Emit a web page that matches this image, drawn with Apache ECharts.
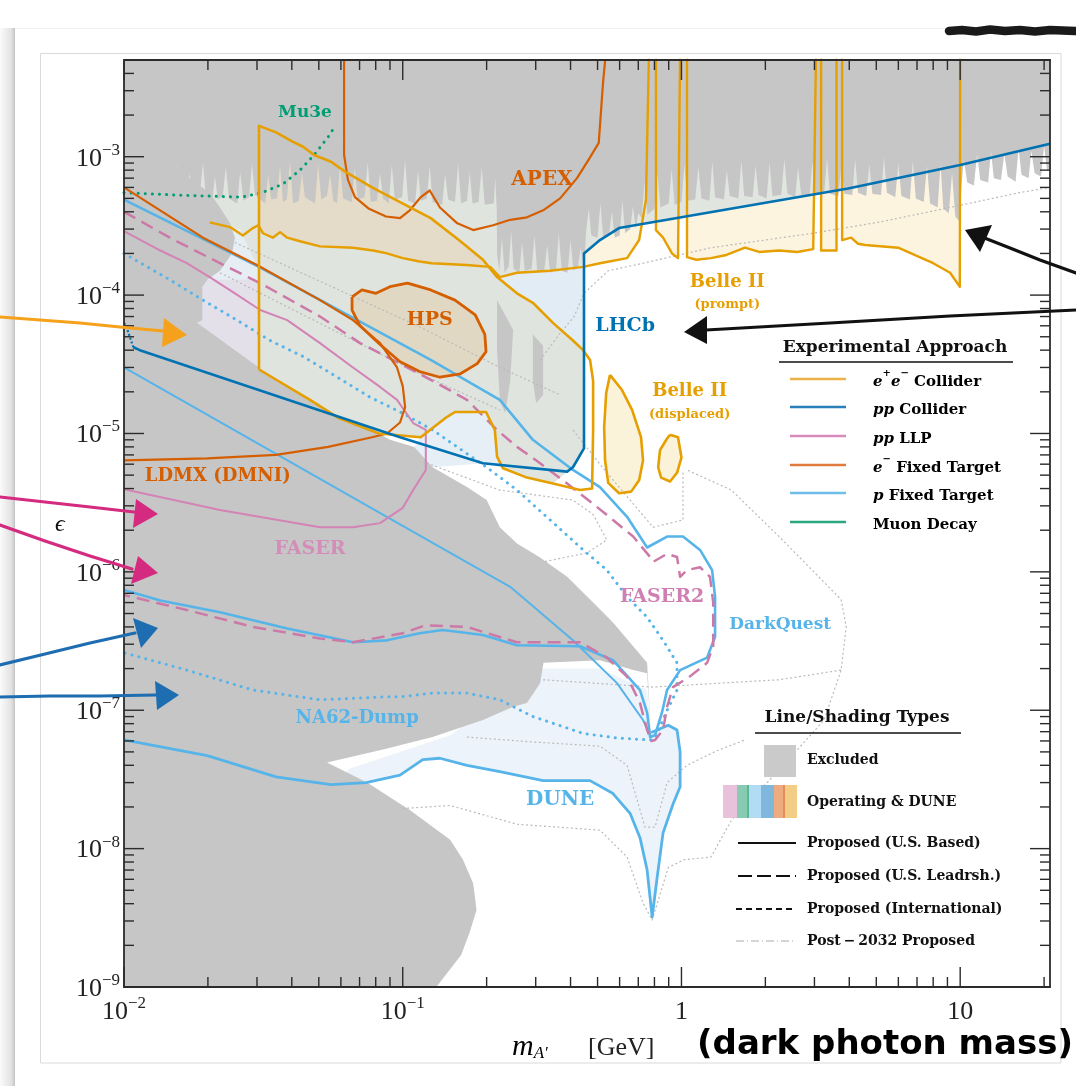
<!DOCTYPE html>
<html><head><meta charset="utf-8">
<script src="https://cdn.jsdelivr.net/npm/echarts@6/dist/echarts.min.js"></script>
<style>html,body{margin:0;padding:0;background:#fff}#c{width:1076px;height:1086px}</style>
</head><body><div id="c"></div><script>
// ---------------- axis ranges & ticks ----------------
const X_MIN = 0.01, X_MAX = 21, Y_MIN = 1e-9, Y_MAX = 5e-3;
const xMajor = [0.01, 0.1, 1, 10];
const xMinor = [0.02,0.03,0.04,0.05,0.06,0.07,0.08,0.09,0.2,0.3,0.4,0.5,0.6,0.7,0.8,0.9,2,3,4,5,6,7,8,9,20];
const yMajor = [1e-9,1e-8,1e-7,1e-6,1e-5,1e-4,1e-3];
const yMinor = [2e-9,3e-9,4e-9,5e-9,6e-9,7e-9,8e-9,9e-9,2e-8,3e-8,4e-8,5e-8,6e-8,7e-8,8e-8,9e-8,
  2e-7,3e-7,4e-7,5e-7,6e-7,7e-7,8e-7,9e-7,2e-6,3e-6,4e-6,5e-6,6e-6,7e-6,8e-6,9e-6,
  2e-5,3e-5,4e-5,5e-5,6e-5,7e-5,8e-5,9e-5,2e-4,3e-4,4e-4,5e-4,6e-4,7e-4,8e-4,9e-4,2e-3,3e-3,4e-3];

// ---------------- excluded (grey) regions: [mass GeV, epsilon] ----------------
const grayTopEdge = [[0.010,9.5e-4],[0.015,9.1e-4],
 [0.0152,5.2e-4],[0.0156,8.8e-4],[0.016,5.0e-4],[0.0168,4.8e-4],[0.0172,7.6e-4],[0.0176,5.1e-4],
 [0.0187,5.3e-4],[0.0192,9.0e-4],[0.0197,5.0e-4],[0.0207,4.7e-4],[0.0212,7.2e-4],[0.0217,4.9e-4],
 [0.0226,5.2e-4],[0.0232,8.4e-4],[0.0238,5.0e-4],[0.0255,4.6e-4],[0.0261,7.8e-4],[0.0268,4.8e-4],
 [0.0281,5.1e-4],[0.0288,8.9e-4],[0.0295,5.3e-4],[0.0321,4.6e-4],[0.0329,7.4e-4],[0.0337,4.9e-4],
 [0.0354,5.0e-4],[0.0363,8.6e-4],[0.0372,4.7e-4],[0.0384,4.9e-4],[0.0394,9.3e-4],[0.0404,4.6e-4],
 [0.0424,4.8e-4],[0.0435,7.7e-4],[0.0446,5.1e-4],[0.0485,4.6e-4],[0.0497,9.0e-4],[0.051,4.9e-4],
 [0.0535,5.2e-4],[0.0549,7.5e-4],[0.0563,4.8e-4],[0.0581,4.6e-4],[0.0596,8.8e-4],[0.0611,5.0e-4],
 [0.0656,4.7e-4],[0.0673,8.2e-4],[0.069,4.9e-4],[0.073,5.1e-4],[0.0749,9.1e-4],[0.0768,4.7e-4],
 [0.0808,4.8e-4],[0.0829,7.6e-4],[0.085,5.0e-4],[0.0891,4.6e-4],[0.0914,8.7e-4],[0.0937,4.9e-4],
 [0.0995,5.1e-4],[0.102,9.4e-4],[0.1045,4.8e-4],[0.1107,4.6e-4],[0.1135,7.9e-4],[0.1163,4.8e-4],
 [0.122,5.0e-4],[0.125,8.6e-4],[0.128,4.7e-4],[0.1385,4.5e-4],[0.142,7.5e-4],[0.1455,4.9e-4],
 [0.154,4.7e-4],[0.158,8.9e-4],[0.162,4.6e-4],[0.17,4.8e-4],[0.174,7.7e-4],[0.178,4.6e-4],
 [0.187,4.7e-4],[0.192,8.3e-4],[0.197,4.5e-4],[0.212,4.6e-4],[0.215,7.0e-4],[0.2175,4.0e-4],
 [0.218,2.0e-4],[0.222,1.5e-4],[0.227,2.6e-4],[0.232,1.45e-4],[0.24,1.6e-4],[0.245,2.9e-4],[0.25,1.55e-4],
 [0.262,1.45e-4],[0.268,2.4e-4],[0.274,1.5e-4],[0.29,1.55e-4],[0.297,2.7e-4],[0.304,1.45e-4],
 [0.322,1.5e-4],[0.33,2.3e-4],[0.338,1.45e-4],[0.355,1.55e-4],[0.363,2.8e-4],[0.372,1.5e-4],
 [0.39,1.45e-4],[0.4,2.5e-4],[0.41,1.5e-4],[0.425,1.6e-4],[0.435,2.2e-4],[0.447,1.55e-4],
 [0.455,2.9e-4],[0.465,4.2e-4],[0.475,2.7e-4],[0.5,2.6e-4],[0.512,4.6e-4],[0.524,2.6e-4],
 [0.55,2.8e-4],[0.563,4.0e-4],[0.576,2.6e-4],[0.6,2.7e-4],[0.614,4.8e-4],[0.628,2.8e-4],
 [0.655,3.0e-4],[0.67,4.4e-4],[0.685,3.0e-4],
 [0.7,3.9e-4],[0.72,3.6e-4],[0.737,6.5e-4],[0.755,3.8e-4],[0.8,4.2e-4],[0.82,7.6e-4],[0.84,4.3e-4],
 [0.9,4.6e-4],[0.922,8.2e-4],[0.945,4.5e-4],[1.0,4.7e-4],[1.025,8.8e-4],[1.05,4.8e-4],
 [1.12,4.9e-4],[1.15,8.4e-4],[1.18,5.0e-4],[1.26,4.8e-4],[1.29,9.2e-4],[1.32,5.1e-4],
 [1.42,4.9e-4],[1.455,8.0e-4],[1.49,5.2e-4],[1.6,5.0e-4],[1.64,9.4e-4],[1.68,5.2e-4],
 [1.8,5.1e-4],[1.845,8.6e-4],[1.89,5.3e-4],[2.02,5.0e-4],[2.07,9.0e-4],[2.12,5.2e-4],
 [2.28,5.3e-4],[2.34,9.6e-4],[2.4,5.4e-4],[2.56,5.1e-4],[2.62,8.4e-4],[2.69,5.3e-4],
 [2.88,5.2e-4],[2.95,9.2e-4],[3.02,5.3e-4],[3.25,5.4e-4],[3.33,9.8e-4],[3.41,5.4e-4],
 [3.66,5.2e-4],[3.75,8.9e-4],[3.84,5.4e-4],[4.1,5.3e-4],[4.2,9.6e-4],[4.3,5.5e-4],
 [4.6,5.2e-4],[4.72,8.8e-4],[4.84,5.4e-4],[5.2,5.3e-4],[5.33,9.9e-4],[5.46,5.5e-4],
 [5.85,5.1e-4],[6.0,9.0e-4],[6.15,5.2e-4],[6.6,4.9e-4],[6.76,9.4e-4],[6.93,5.0e-4],
 [7.4,4.7e-4],[7.6,8.6e-4],[7.8,4.6e-4],[8.3,4.3e-4],[8.5,8.9e-4],[8.7,4.2e-4],
 [9.1,3.9e-4],[9.35,7.6e-4],[9.6,3.7e-4],[9.95,3.4e-4],
 [10.1,6.0e-4],[10.3,9.5e-4],[10.6,6.5e-4],[11.2,6.2e-4],[11.5,1.05e-3],[11.8,6.8e-4],
 [12.6,6.5e-4],[12.9,1.1e-3],[13.2,7.0e-4],[14.0,6.8e-4],[14.4,1.05e-3],[14.8,7.2e-4],
 [15.8,6.6e-4],[16.2,1.15e-3],[16.6,7.4e-4],[17.6,7.0e-4],[18.0,1.1e-3],[18.5,7.6e-4],
 [19.5,7.2e-4],[20.0,1.2e-3],[20.5,8.0e-4],[21,8.0e-4]];
const grayDump = [[0.01,5e-3],[0.015,5e-3],[0.015,9.1e-4],[0.0168,7.2e-4],[0.0203,5.5e-4],[0.0221,4.3e-4],[0.024,3.3e-4],[0.025,2.6e-4],[0.0244,2.0e-4],[0.0221,1.5e-4],[0.0199,1.29e-4],[0.0191,1.15e-4],[0.0191,6.6e-5],[0.0183,6.3e-5],[0.0305,3.0e-5],[0.0465,1.75e-5],[0.0586,1.3e-5],[0.0822,1.0e-5],[0.09,9.0e-6],[0.11,8.0e-6],[0.128,5.7e-6],[0.17,4.1e-6],[0.20,3.3e-6],[0.223,2.1e-6],[0.257,1.6e-6],[0.311,1.27e-6],[0.389,9.2e-7],[0.482,6.0e-7],[0.568,4.3e-7],[0.671,2.9e-7],[0.753,2.2e-7],[0.778,6.6e-8],[0.753,1.85e-7],[0.671,1.95e-7],[0.51,2.3e-7],[0.32,2.2e-7],[0.311,1.57e-7],[0.279,1.13e-7],[0.249,1.06e-7],[0.194,8.5e-8],[0.128,6.4e-8],[0.085,5.2e-8],[0.0535,4.2e-8],[0.0745,3.0e-8],[0.106,1.9e-8],[0.148,1.16e-8],[0.1645,8.3e-9],[0.179,5.6e-9],[0.184,3.6e-9],[0.174,2.5e-9],[0.162,1.7e-9],[0.132,1e-9],[0.01,1e-9]];
const grayBlob1 = [[0.218,9.2e-5],[0.249,5.6e-5],[0.243,2.4e-5],[0.233,1.4e-5],[0.223,1.75e-5],[0.218,4.0e-5]];
const grayBlob2 = [[0.293,5.2e-5],[0.319,4.3e-5],[0.319,1.9e-5],[0.301,1.66e-5],[0.293,2.4e-5]];

// ---------------- operating / DUNE shaded regions ----------------
const fillGreen = [[0.015,2e-3],[0.447,2e-3],[0.447,7.8e-6],[0.408,5.7e-6],[0.389,5.3e-6],[0.346,4.35e-6],[0.279,4.8e-6],[0.229,5.6e-6],[0.218,6.8e-6],[0.214,1.06e-5],[0.199,1.43e-5],[0.154,1.43e-5],[0.142,1.29e-5],[0.116,9.4e-6],[0.0822,1.0e-5],[0.0586,1.3e-5],[0.0465,1.75e-5],[0.0305,3.0e-5],[0.0183,6.3e-5],[0.015,6.3e-5]];
const fillBlueLeft = [[0.0172,3.0e-4],[0.0261,3.0e-4],[0.0305,1.5e-4],[0.0305,1.27e-4],[0.0172,1.27e-4]];
const fillPurple = [[0.0172,1.29e-4],[0.0305,1.29e-4],[0.0305,3.0e-5],[0.0183,6.3e-5],[0.0172,6.3e-5]];
const fillTan = [[0.0305,1.67e-3],[0.0351,1.5e-3],[0.0404,1.28e-3],[0.0439,1.18e-3],[0.0481,1.03e-3],[0.0553,9.2e-4],[0.0621,7.8e-4],[0.0776,6.0e-4],[0.0978,4.7e-4],[0.126,3.6e-4],[0.159,2.5e-4],[0.194,1.8e-4],[0.218,1.35e-4],[0.206,1.6e-4],[0.169,1.65e-4],[0.127,1.7e-4],[0.115,1.75e-4],[0.10,1.85e-4],[0.0878,2.0e-4],[0.0783,2.1e-4],[0.0663,2.2e-4],[0.0505,2.25e-4],[0.0428,2.45e-4],[0.0385,2.6e-4],[0.0363,2.85e-4],[0.0342,2.6e-4],[0.0315,2.8e-4],[0.0305,3.0e-4]];
const fillLHCb = [[0.218,1.35e-4],[0.257,1.45e-4],[0.338,1.5e-4],[0.447,1.6e-4],[0.447,4.0e-5],[0.444,4.0e-5],[0.408,4.7e-5],[0.346,6.3e-5],[0.293,8.8e-5],[0.257,1.03e-4]];
const fillBlueLow = [[0.116,9.4e-6],[0.142,1.29e-5],[0.154,1.43e-5],[0.199,1.43e-5],[0.214,1.06e-5],[0.218,6.8e-6],[0.229,5.6e-6],[0.194,6.1e-6],[0.128,5.7e-6],[0.11,8.0e-6]];
const duneFillTop = [[0.753,1.4e-7],[0.51,2.0e-7],[0.319,2.0e-7],[0.148,6.6e-8],[0.0647,3.8e-8]];

// ---------------- sensitivity curves ----------------
const mu3e = [[0.01,5.5e-4],[0.0149,5.3e-4],[0.0263,5.1e-4],[0.0313,5.5e-4],[0.0372,6.35e-4],[0.0428,8.0e-4],[0.0481,1.03e-3],[0.054,1.39e-3],[0.0576,1.7e-3]];
const belle2Contour = [[0.0305,2.9e-5],[0.0305,1.67e-3],[0.0351,1.5e-3],[0.0404,1.28e-3],[0.0439,1.18e-3],[0.0481,1.03e-3],[0.0553,9.2e-4],[0.0621,7.8e-4],[0.0776,6.0e-4],[0.0978,4.7e-4],[0.126,3.6e-4],[0.159,2.5e-4],[0.194,1.8e-4],[0.218,1.35e-4],[0.257,1.03e-4],[0.293,8.8e-5],[0.346,6.3e-5],[0.408,4.7e-5],[0.444,4.0e-5],[0.47,3.4e-5],[0.482,2.4e-5],[0.482,1.06e-5],[0.478,4.0e-6],[0.433,3.9e-6],[0.346,4.35e-6],[0.279,4.8e-6],[0.229,5.6e-6],[0.218,6.8e-6],[0.214,1.06e-5],[0.199,1.43e-5],[0.154,1.43e-5],[0.142,1.29e-5],[0.116,9.4e-6],[0.0822,1.0e-5],[0.0586,1.3e-5],[0.0465,1.75e-5],[0.0305,2.9e-5]];
const belle2Prompt = [[0.0203,3.35e-4],[0.024,3.1e-4],[0.0267,2.7e-4],[0.029,3.05e-4],[0.0303,3.2e-4],[0.0315,2.8e-4],[0.0342,2.6e-4],[0.0363,2.85e-4],[0.0385,2.6e-4],[0.0428,2.45e-4],[0.0505,2.25e-4],[0.0663,2.2e-4],[0.0783,2.1e-4],[0.0878,2.0e-4],[0.10,1.85e-4],[0.115,1.75e-4],[0.127,1.7e-4],[0.169,1.65e-4],[0.206,1.6e-4],[0.223,1.35e-4],[0.257,1.45e-4],[0.338,1.5e-4],[0.444,1.6e-4],[0.51,1.7e-4],[0.638,1.85e-4],[0.705,2.5e-4],[0.746,4.9e-4],[0.765,6e-3],[0.81,6e-3],[0.81,2.95e-4],[0.859,2.6e-4],[0.925,2.0e-4],[0.972,1.85e-4],[0.989,6e-3],[1.047,6e-3],[1.047,1.88e-4],[1.13,1.8e-4],[1.276,1.85e-4],[1.45,1.95e-4],[1.69,2.2e-4],[1.9,2.05e-4],[2.24,2.1e-4],[2.6,2.05e-4],[2.97,2.15e-4],[3.04,6e-3],[3.17,6e-3],[3.17,2.1e-4],[3.6,2.1e-4],[3.6,6e-3],[3.77,6e-3],[3.77,2.5e-4],[4.06,2.6e-4],[4.3,2.35e-4],[4.56,2.3e-4],[5.99,2.2e-4],[8.0,1.7e-4],[9.2,1.45e-4],[9.97,1.15e-4],[10.0,6e-3]];
const belle2Disp1 = [[0.554,2.65e-5],[0.612,2.06e-5],[0.665,1.48e-5],[0.716,9.4e-6],[0.728,6.4e-6],[0.705,4.6e-6],[0.66,3.8e-6],[0.597,3.7e-6],[0.546,4.4e-6],[0.532,6.4e-6],[0.528,1.11e-5],[0.537,1.96e-5],[0.554,2.65e-5]];
const belle2Disp2 = [[0.91,9.8e-6],[0.972,9.4e-6],[1.0,6.7e-6],[0.964,5.2e-6],[0.91,4.5e-6],[0.845,4.8e-6],[0.825,5.7e-6],[0.838,7.6e-6],[0.888,9.2e-6],[0.91,9.8e-6]];
const apex = [[0.0616,6e-3],[0.0616,1.03e-3],[0.0636,6.8e-4],[0.0674,5.1e-4],[0.0757,4.2e-4],[0.0871,3.7e-4],[0.0978,3.6e-4],[0.106,4.1e-4],[0.116,5.1e-4],[0.125,5.7e-4],[0.136,4.3e-4],[0.157,3.3e-4],[0.179,2.95e-4],[0.211,3.2e-4],[0.243,3.5e-4],[0.279,3.65e-4],[0.319,4.1e-4],[0.367,5.0e-4],[0.422,7.0e-4],[0.47,9.9e-4],[0.505,1.26e-3],[0.523,3.4e-3],[0.537,6e-3]];
const hps = [[0.0658,9.7e-5],[0.0714,1.09e-4],[0.0802,1.03e-4],[0.09,1.15e-4],[0.104,1.22e-4],[0.126,1.09e-4],[0.154,9.2e-5],[0.182,7.2e-5],[0.197,5.2e-5],[0.199,3.9e-5],[0.185,3.2e-5],[0.161,2.7e-5],[0.136,2.55e-5],[0.115,2.8e-5],[0.0978,3.3e-5],[0.0829,4.4e-5],[0.0703,6.0e-5],[0.0658,7.8e-5],[0.0658,9.7e-5]];
const ldmx = [[0.01,6.0e-4],[0.0192,2.6e-4],[0.030,1.65e-4],[0.0505,9.2e-5],[0.0663,6.6e-5],[0.0829,4.5e-5],[0.0954,3.0e-5],[0.10,2.2e-5],[0.102,1.55e-5],[0.0978,1.2e-5],[0.0878,1.0e-5],[0.0776,9.4e-6],[0.054,8.0e-6],[0.0351,7.0e-6],[0.0199,6.6e-6],[0.01,6.4e-6]];
const lhcb = [[21,1.24e-3],[10.0,8.7e-4],[3.96,5.9e-4],[0.597,3.05e-4],[0.51,2.5e-4],[0.447,2.0e-4],[0.447,7.8e-6],[0.408,5.7e-6],[0.389,5.3e-6],[0.194,6.1e-6],[0.0978,9.4e-6],[0.0114,4.0e-5],[0.0108,4.2e-5]];
const lhcbLow = [[0.0108,4.2e-5],[0.0102,5.9e-5],[0.01,6.3e-5]];
const faser = [[0.01,2.9e-4],[0.0135,2.1e-4],[0.0168,1.7e-4],[0.0203,1.35e-4],[0.025,1.03e-4],[0.0308,7.8e-5],[0.0385,6.6e-5],[0.0505,4.5e-5],[0.0663,3.0e-5],[0.0829,2.17e-5],[0.0954,1.75e-5],[0.109,1.19e-5],[0.121,1.06e-5],[0.121,5.45e-6],[0.109,3.9e-6],[0.10,2.9e-6],[0.0829,2.25e-6],[0.0663,2.1e-6],[0.0505,2.1e-6],[0.0221,2.8e-6],[0.01,3.95e-6]];
const faser2 = [[0.01,4.0e-4],[0.0146,2.6e-4],[0.0221,1.7e-4],[0.0308,1.22e-4],[0.0505,7.0e-5],[0.0703,4.5e-5],[0.0978,3.2e-5],[0.128,2.4e-5],[0.17,1.75e-5],[0.218,1.06e-5],[0.257,8.0e-6],[0.311,6.1e-6],[0.389,4.35e-6],[0.482,3.1e-6],[0.568,2.37e-6],[0.671,1.8e-6],[0.772,1.28e-6],[0.791,1.18e-6],[0.888,1.35e-6],[0.964,1.28e-6],[0.989,9.2e-7],[1.047,1.03e-6],[1.166,1.08e-6],[1.266,9.2e-7],[1.3,6.0e-7],[1.3,2.9e-7],[1.236,2.2e-7],[1.07,1.75e-7],[0.933,1.47e-7],[0.888,1.06e-7],[0.859,7.2e-8],[0.804,6.1e-8],[0.778,6.0e-8],[0.753,7.2e-8],[0.71,1.13e-7],[0.638,1.75e-7],[0.54,2.4e-7],[0.433,3.1e-7],[0.257,3.1e-7],[0.17,4.0e-7],[0.12,4.1e-7],[0.10,3.6e-7],[0.0663,3.1e-7],[0.0505,3.3e-7],[0.029,4.0e-7],[0.0168,5.3e-7],[0.01,6.8e-7]];
const darkQuest = [[0.01,4.9e-4],[0.0305,1.6e-4],[0.126,3.4e-5],[0.223,1.75e-5],[0.293,9.0e-6],[0.408,5.45e-6],[0.51,4.1e-6],[0.638,2.5e-6],[0.753,1.5e-6],[0.888,1.8e-6],[1.013,1.8e-6],[1.166,1.44e-6],[1.288,1.03e-6],[1.32,6.6e-7],[1.32,3.4e-7],[1.236,2.4e-7],[0.989,1.95e-7],[0.888,1.4e-7],[0.851,9.6e-8],[0.804,6.6e-8],[0.772,6.4e-8],[0.753,9.6e-8],[0.71,1.4e-7],[0.568,2.3e-7],[0.433,2.9e-7],[0.257,2.95e-7],[0.194,3.5e-7],[0.139,3.8e-7],[0.115,3.6e-7],[0.0878,3.2e-7],[0.0663,3.1e-7],[0.0385,3.9e-7],[0.0221,5.1e-7],[0.0135,6.2e-7],[0.01,7.4e-7]];
const pftDiag = [[0.01,3.0e-5],[0.0978,2.2e-6],[0.243,7.8e-7],[0.408,3.2e-7],[0.587,1.57e-7],[0.728,8.5e-8],[0.778,6.4e-8]];
const na62 = [[0.01,2.0e-4],[0.0146,1.29e-4],[0.0192,9.2e-5],[0.0254,6.6e-5],[0.0334,4.7e-5],[0.0439,3.6e-5],[0.0581,2.56e-5],[0.0763,1.83e-5],[0.10,1.4e-5],[0.128,1.06e-5],[0.20,5.7e-6],[0.257,3.9e-6],[0.338,2.37e-6],[0.444,1.44e-6],[0.54,1.03e-6],[0.638,6.6e-7],[0.753,4.7e-7],[0.859,3.2e-7],[0.964,2.2e-7],[0.964,1.4e-7],[0.888,1.0e-7],[0.804,6.3e-8],[0.772,6.1e-8],[0.587,6.3e-8],[0.444,6.8e-8],[0.293,9.0e-8],[0.223,1.19e-7],[0.17,1.33e-7],[0.128,1.33e-7],[0.0978,1.25e-7],[0.0878,1.25e-7],[0.0505,1.19e-7],[0.029,1.4e-7],[0.0168,1.95e-7],[0.01,2.6e-7]];
const dune = [[0.01,6.1e-8],[0.0199,4.7e-8],[0.0351,3.3e-8],[0.0553,2.9e-8],[0.0739,3.0e-8],[0.0978,3.4e-8],[0.118,4.4e-8],[0.136,4.5e-8],[0.17,4.0e-8],[0.223,3.6e-8],[0.319,3.1e-8],[0.47,3.1e-8],[0.568,2.5e-8],[0.654,1.8e-8],[0.71,1.2e-8],[0.753,7.0e-9],[0.785,3.2e-9],[0.818,6.2e-9],[0.859,1.3e-8],[0.933,2.1e-8],[0.989,2.8e-8],[0.989,5.0e-8],[0.964,7.2e-8],[0.897,7.8e-8],[0.818,7.2e-8],[0.778,6.9e-8]];
// post-2032 proposals (faint dotted)
const post1 = [[0.311,3.4e-5],[0.367,5.3e-5],[0.412,7.0e-5],[0.447,1.03e-4],[0.546,1.5e-4],[0.728,1.7e-4],[1.276,2.2e-4],[2.97,2.8e-4],[5.25,3.4e-4],[9.2,4.3e-4],[16.3,5.5e-4],[21,6.0e-4]];
const post2 = [[0.10,1.95e-8],[0.148,2.05e-8],[0.257,1.5e-8],[0.51,1.36e-8],[0.638,8.7e-9],[0.728,4.05e-9],[0.785,3.05e-9],[0.897,7.3e-9],[1.02,8.3e-9],[1.276,8.7e-9],[1.51,1.6e-8],[2.24,3.7e-8],[3.25,8.5e-8],[3.74,1.95e-7],[3.9,4.0e-7],[3.74,6.3e-7],[2.24,1.8e-6],[1.51,3.9e-6],[1.047,5.45e-6]];
const post3 = [[0.17,6.4e-8],[0.293,5.9e-8],[0.51,5.5e-8],[0.638,4.0e-8],[0.74,1.43e-8],[0.804,1.43e-8],[0.888,3.0e-8],[1.047,4.0e-8],[1.34,5.1e-8],[1.69,6.1e-8]];
const post4 = [[0.319,1.66e-7],[0.791,1.47e-7],[1.375,1.57e-7],[2.24,1.66e-7],[3.74,1.95e-7]];
const post5 = [[0.025,2.4e-4],[0.115,5.9e-5],[0.223,3.0e-5],[0.367,1.9e-5]];
const post6 = [[0.0221,1.45e-4],[0.115,2.7e-5],[0.223,1.48e-5]];
const post7 = [[0.122,6.1e-6],[0.223,3.9e-6],[0.408,3.3e-6],[0.482,2.6e-6],[0.54,1.7e-6],[0.458,1.37e-6],[0.319,1.18e-6]];
const post8 = [[0.408,1.06e-5],[0.53,5.45e-6],[0.791,2.1e-6],[1.013,2.37e-6],[1.013,5.45e-6]];

// ---------------- region labels ----------------
const labelTexts = ['Mu3e','APEX','HPS','LHCb','Belle II','(prompt)','Belle II','(displaced)','LDMX (DMNI)','FASER','FASER2','DarkQuest','NA62-Dump','DUNE'];
const labelPos = [[0.0446,2.07e-3],[0.316,6.8e-4],[0.125,6.6e-5],[0.628,6.0e-5],[1.46,1.24e-4],[1.46,8.6e-5],[1.07,2.0e-5],[1.07,1.36e-5],[0.0217,4.93e-6],[0.0465,1.46e-6],[0.852,6.6e-7],[2.26,4.13e-7],[0.0686,8.8e-8],[0.367,2.25e-8]];

// ---------------- styles ----------------
const C = {ee:'#E69F00', pp:'#0072B2', llp:'#CC79A7', eft:'#D55E00', pft:'#56B4E9', mu:'#009E73', gray:'#c6c6c6', post:'#bababa'};
const SERIF = "'DejaVu Serif', 'Liberation Serif', serif";
const TSERIF = "'Liberation Serif', 'DejaVu Serif', serif";
const labelStyle = [[C.mu,17],[C.eft,20],[C.eft,19],[C.pp,19],[C.ee,18],[C.ee,13],[C.ee,18],[C.ee,13],[C.eft,18],['#d48cb9',19],['#d07fb2',19],[C.pft,17],[C.pft,18],[C.pft,20]];

function clipRect(p){const c=p.coordSys;return {type:'rect',shape:{x:c.x,y:c.y,width:c.width,height:c.height}};}
function area(pts, fill, z){
  return {type:'custom', coordinateSystem:'cartesian2d', silent:true, animation:false, z:z, data:[[0.1,1e-5]],
    renderItem:function(params, api){
      return {type:'group', clipPath:clipRect(params), children:[{type:'polygon', shape:{points:pts.map(function(q){return api.coord(q);})}, style:{fill:fill}}]};
    }};
}
function line(pts, color, width, dash, z, cap){
  return {type:'line', data:pts, symbol:'none', showSymbol:false, silent:true, animation:false, clip:true, z:z||15,
    lineStyle:{color:color, width:width, type:dash||'solid', cap:cap||'butt', join:'round'}};
}
const DOT = [0.1, 7];
function ticks(vals, isX, len){
  return {type:'custom', silent:true, animation:false, z:31, data: vals.map(function(v){return isX?[v,Y_MIN]:[X_MIN,v];}),
    renderItem:function(params, api){
      const s={stroke:'#2b2b2b', lineWidth:1.4};
      if(isX){
        const v=api.value(0), a=api.coord([v,Y_MIN]), b=api.coord([v,Y_MAX]);
        return {type:'group', children:[{type:'line',shape:{x1:a[0],y1:a[1],x2:a[0],y2:a[1]-len},style:s},{type:'line',shape:{x1:b[0],y1:b[1],x2:b[0],y2:b[1]+len},style:s}]};
      }
      const v=api.value(1), a=api.coord([X_MIN,v]), b=api.coord([X_MAX,v]);
      return {type:'group', children:[{type:'line',shape:{x1:a[0],y1:a[1],x2:a[0]+len,y2:a[1]},style:s},{type:'line',shape:{x1:b[0],y1:b[1],x2:b[0]-len,y2:b[1]},style:s}]};
    }};
}
function powLabel(v){
  const e = Math.log10(v), r = Math.round(e);
  if (Math.abs(e-r) > 0.01) return '';
  if (r === 0) return '{n|1}';
  if (r === 1) return '{n|10}';
  return '{n|10}{s|\u2212' + (-r) + '}';
}
const RICH = {n:{fontSize:26, fontFamily:TSERIF, color:'#222', lineHeight:30, verticalAlign:'bottom'},
              s:{fontSize:17, fontFamily:TSERIF, color:'#222', lineHeight:14, verticalAlign:'top'}};
function axisBase(pos, isX, show){
  return {type:'log', logBase:10, min:isX?X_MIN:Y_MIN, max:isX?X_MAX:Y_MAX, position:pos, z:30,
    axisLine:{show:true, onZero:false, lineStyle:{color:'#2b2b2b', width:1.8}},
    axisTick:{show:false}, minorTick:{show:false}, splitLine:{show:false}, minorSplitLine:{show:false},
    axisLabel:{show:show, margin:isX?8:4, showMinLabel:true, showMaxLabel:false, formatter:powLabel, rich:RICH}};
}

const labelSeries = {type:'custom', silent:true, animation:false, z:40,
  data: labelPos.map(function(p,i){return [p[0],p[1],i];}),
  renderItem:function(params, api){
    const i=api.value(2), c=api.coord([api.value(0),api.value(1)]), st=labelStyle[i];
    return {type:'text', x:c[0], y:c[1], style:{text:labelTexts[i], fill:st[0], fontSize:st[1], fontWeight:'bold', fontFamily:SERIF,
      align:'center', verticalAlign:'middle', textAlign:'center', textVerticalAlign:'middle'}};
  }};

const fillYellow = belle2Prompt.filter(function(p){return p[0] >= 0.444;}).concat([[10,6e-3],[0.444,6e-3]]);
const fillGreenRight = lhcb.slice(0,6).concat([[0.447,6e-3],[21,6e-3]]);
const fillDune = dune.slice(3).concat(duneFillTop);

const series = [
  area(fillGreen, '#dfe4de', 1),
  area(fillBlueLeft, '#e6eef4', 2),
  area(fillPurple, '#e4e0ea', 3),
  area(fillTan, '#e4dcc8', 4),
  area(fillLHCb, '#e2ecf5', 5),
  area(fillBlueLow, '#e6eef6', 5),
  area(fillYellow, '#fcf4df', 6),
  area(fillGreenRight, '#e0e5e0', 7),
  area(fillDune, '#edf3fa', 8),
  area(hps, '#e1d8c3', 9),
  area(belle2Disp1, '#fbf2da', 9),
  area(belle2Disp2, '#fbf2da', 9),
  area(grayTopEdge.concat([[21,5e-3],[0.01,5e-3]]), C.gray, 10),
  area(grayDump, C.gray, 10),
  area(grayBlob1, C.gray, 10),
  area(grayBlob2, C.gray, 10),
  line(post1, C.post, 1.2, [2,2.5], 12), line(post2, C.post, 1.2, [2,2.5], 12), line(post3, C.post, 1.2, [2,2.5], 12),
  line(post4, C.post, 1.2, [2,2.5], 12), line(post5, C.post, 1.2, [2,2.5], 12), line(post6, C.post, 1.2, [2,2.5], 12),
  line(post7, C.post, 1.2, [2,2.5], 12), line(post8, C.post, 1.2, [2,2.5], 12),
  line(mu3e, C.mu, 3, DOT, 14, 'round'),
  line(pftDiag, C.pft, 2, 'solid', 14),
  line(na62, C.pft, 3, DOT, 14, 'round'),
  line(dune, C.pft, 2.8, 'solid', 14),
  line(darkQuest, C.pft, 2.6, 'solid', 15),
  line(faser, '#d383b5', 2, 'solid', 15),
  line(faser2, C.llp, 2.5, [13,7], 15),
  line(ldmx, C.eft, 2.2, 'solid', 15),
  line(apex, C.eft, 2.2, 'solid', 15),
  line(hps, C.eft, 2.8, 'solid', 15),
  line(belle2Contour, C.ee, 2.6, 'solid', 16),
  line(belle2Prompt, C.ee, 2.4, 'solid', 16),
  line(belle2Disp1, C.ee, 2.6, 'solid', 16),
  line(belle2Disp2, C.ee, 2.6, 'solid', 16),
  line(lhcb, C.pp, 2.6, 'solid', 17),
  line(lhcbLow, C.pp, 2.2, [2,2], 17),
  labelSeries,
  ticks(xMajor, true, 20), ticks(xMinor, true, 10), ticks(yMajor, false, 20), ticks(yMinor, false, 10)
];

// ---------------- legends & annotations (page layout) ----------------
function T(x, y, text, size, opts){
  opts = opts || {};
  return {type:'text', x:x, y:y, z:100, silent:true, style:Object.assign({text:text, fill:opts.fill||'#111', fontSize:size, fontWeight:opts.weight||'bold',
    fontStyle:opts.style||'normal', fontFamily:opts.family||SERIF, align:opts.align||'left', verticalAlign:'middle',
    textAlign:opts.align||'left', textVerticalAlign:'middle'}, opts.rich?{rich:opts.rich}:{})};
}
function L(x1,y1,x2,y2,color,w,dash){
  return {type:'line', z:100, silent:true, shape:{x1:x1,y1:y1,x2:x2,y2:y2}, style:{stroke:color, lineWidth:w, lineDash:dash||null, lineCap:'butt'}};
}
function P(points, color, w){ return {type:'polyline', z:110, silent:true, shape:{points:points}, style:{stroke:color, lineWidth:w, lineCap:'round', lineJoin:'round', fill:null}}; }
function G(points, color){ return {type:'polygon', z:110, silent:true, shape:{points:points}, style:{fill:color}}; }
const legRich = {it:{fontSize:15, fontWeight:'bold', fontStyle:'italic', fontFamily:SERIF, lineHeight:22, verticalAlign:'bottom', color:'#111'},
                 r:{fontSize:15, fontWeight:'bold', fontFamily:SERIF, lineHeight:22, verticalAlign:'bottom', color:'#111'},
                 sp:{fontSize:10, fontWeight:'bold', fontFamily:SERIF, lineHeight:11, verticalAlign:'top', color:'#111'}};
const legY = [379, 407, 436, 465, 493, 522];
const legCol = ['#ebb24a','#2a80bb','#d58cba','#df7b3c','#6fbeea','#2aa680'];
const legTxt = ['{it|e}{sp|+}{it|e}{sp|\u2212}{r| Collider}','{it|pp}{r| Collider}','{it|pp}{r| LLP}','{it|e}{sp|\u2212}{r| Fixed Target}','{it|p}{r| Fixed Target}','{r|Muon Decay}'];
const elements = [
  {type:'rect', z:0, silent:true, shape:{x:0,y:28,width:15,height:1058}, style:{fill:new echarts.graphic.LinearGradient(0,0,1,0,[{offset:0,color:'#fbfbfb'},{offset:0.75,color:'#e2e2e2'},{offset:1,color:'#c4c4c4'}])}},
  L(15,28.5,1076,28.5,'#f0f0f0',1),
  {type:'rect', z:0, silent:true, shape:{x:40.5,y:53.5,width:1020.5,height:1009.5}, style:{fill:null, stroke:'#dadada', lineWidth:1}},
  T(895, 348, 'Experimental Approach', 17, {align:'center'}),
  L(779, 362, 1013, 362, '#111', 1.5),
  T(857, 718, 'Line/Shading Types', 17, {align:'center'}),
  L(755, 733, 961, 733, '#111', 1.5),
  {type:'rect', z:100, silent:true, shape:{x:764,y:745,width:32,height:32}, style:{fill:'#cacaca'}},
  T(807, 760, 'Excluded', 14),
  {type:'rect', z:100, silent:true, shape:{x:723,y:785,width:14,height:33}, style:{fill:'#e8c2da'}},
  {type:'rect', z:100, silent:true, shape:{x:737,y:785,width:12,height:33}, style:{fill:'#86cbb2'}},
  {type:'rect', z:100, silent:true, shape:{x:749,y:785,width:12,height:33}, style:{fill:'#b1dcf3'}},
  {type:'rect', z:100, silent:true, shape:{x:761,y:785,width:13,height:33}, style:{fill:'#80b7dc'}},
  {type:'rect', z:100, silent:true, shape:{x:774,y:785,width:11,height:33}, style:{fill:'#eeab80'}},
  {type:'rect', z:100, silent:true, shape:{x:785,y:785,width:12,height:33}, style:{fill:'#f3cd85'}},
  L(748, 785, 748, 818, '#3daa86', 1.2), L(784, 785, 784, 818, '#e07b3c', 1.2),
  T(807, 802, 'Operating & DUNE', 14),
  L(738, 843, 796, 843, '#111', 2), T(807, 843, 'Proposed (U.S. Based)', 14),
  L(738, 876, 796, 876, '#111', 2, [14,5]), T(807, 876, 'Proposed (U.S. Leadrsh.)', 14),
  L(736, 909, 796, 909, '#111', 2, [6,4]), T(807, 909, 'Proposed (International)', 14),
  L(736, 941, 796, 941, '#c8c8c8', 1.4, [8,3,1,3]), T(807, 941, 'Post\u2009\u2212\u20092032 Proposed', 14),
  T(55, 525, '\u03f5', 24, {weight:'normal', style:'italic', family:TSERIF}),
  {type:'text', x:512, y:1047, z:100, silent:true, style:{text:'{m|m}{a|A\u2032}', verticalAlign:'middle', textVerticalAlign:'middle',
     rich:{m:{fontSize:30, fontStyle:'italic', fontFamily:TSERIF, color:'#222', lineHeight:30, verticalAlign:'top'},
           a:{fontSize:17, fontStyle:'italic', fontFamily:TSERIF, color:'#222', lineHeight:20, verticalAlign:'bottom'}}}},
  T(588, 1048, '[GeV]', 26, {weight:'normal', family:TSERIF, fill:'#222'}),
  T(885, 1045, '(dark photon mass)', 34, {family:"'DejaVu Sans', 'Liberation Sans', sans-serif", align:'center', fill:'#000'}),
  // hand-drawn arrows
  P([[0,317],[40,320],[80,323],[120,327],[163,331]], '#F5A11C', 3.2), G([[164,318],[187,335],[162,347]], '#F5A11C'),
  P([[0,497],[45,502],[90,507],[134,512]], '#D42A7F', 3.2), G([[136,499],[158,514],[133,528]], '#D42A7F'),
  P([[0,525],[45,541],[90,556],[132,569]], '#D42A7F', 3.2), G([[138,556],[158,573],[131,584]], '#D42A7F'),
  P([[0,665],[45,654],[90,643],[135,633]], '#1E6DB0', 3.2), G([[133,618],[158,628],[141,648]], '#1E6DB0'),
  P([[0,697],[50,696],[100,696],[156,695]], '#1E6DB0', 3.2), G([[155,681],[179,695],[157,710]], '#1E6DB0'),
  P([[1076,273],[1040,260],[1010,248],[982,237]], '#111', 3.2), G([[992,225],[965,230],[980,252]], '#111'),
  P([[1076,310],[950,316],[830,323],[706,330]], '#111', 3.2), G([[707,316],[684,332],[707,344]], '#111'),
  P([[949,31],[962,30],[976,31.5],[990,29.5],[1005,31],[1020,30],[1035,31.5],[1050,30],[1075,31]], '#1a1a1a', 8.5)
];
for (let i = 0; i < 6; i++) {
  elements.push(L(790, legY[i], 846, legY[i], legCol[i], 2.6));
  elements.push({type:'text', x:873, y:legY[i], z:100, silent:true, style:{text:legTxt[i], rich:legRich, verticalAlign:'middle', textVerticalAlign:'middle', align:'left', textAlign:'left'}});
}

const chart = echarts.init(document.getElementById('c'), null, {renderer:'canvas'});
chart.setOption({
  animation:false,
  backgroundColor:'#ffffff',
  grid:{left:124, top:60, right:26, bottom:99, containLabel:false, outerBoundsMode:'none'},
  xAxis:[axisBase('bottom', true, true), axisBase('top', true, false)],
  yAxis:[axisBase('left', false, true), axisBase('right', false, false)],
  series:series,
  graphic:{elements:elements}
});
</script></body></html>
